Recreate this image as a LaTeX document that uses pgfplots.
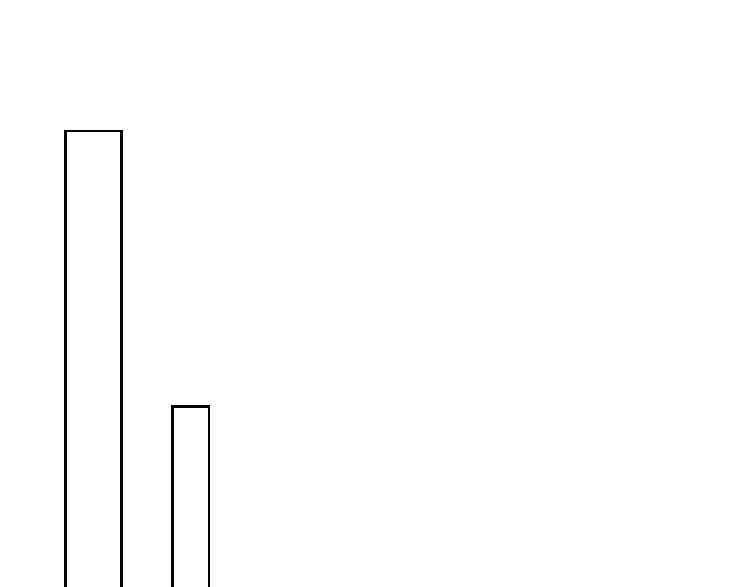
\documentclass[border=0pt]{standalone}
\usepackage{pgfplots}
\pgfplotsset{compat=1.18}
\begin{document}
\begin{tikzpicture}
\begin{axis}[hide axis, scale only axis,
    width=7.5cm, height=5.86cm,
    xmin=0, xmax=750, ymin=0, ymax=586]
% open-bottom bar outlines (left edge, top, right edge), running off the page
\addplot[draw=black, line width=0.6pt, no markers, sharp plot] coordinates {(65.5,-20) (65.5,455) (121.5,455) (121.5,-20)};
\addplot[draw=black, line width=0.6pt, no markers, sharp plot] coordinates {(172.5,-20) (172.5,179.5) (209,179.5) (209,-20)};
\end{axis}
\pgfresetboundingbox
\useasboundingbox (current axis.south west) rectangle (current axis.north east);
\end{tikzpicture}
\end{document}
